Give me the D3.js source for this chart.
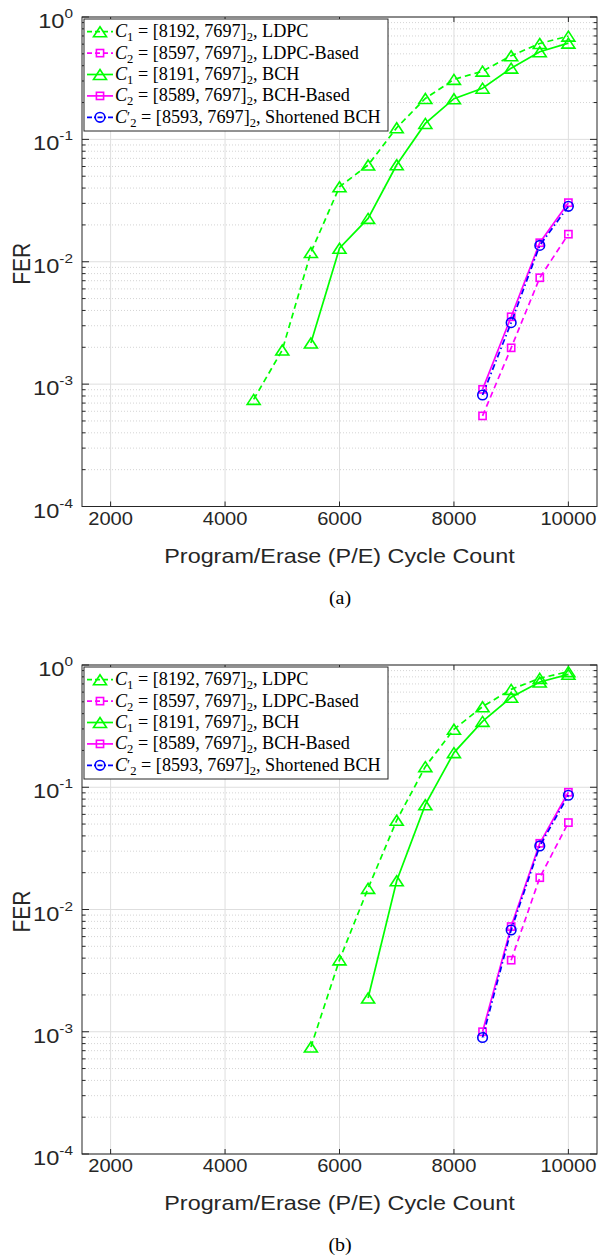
<!DOCTYPE html>
<html>
<head>
<meta charset="utf-8">
<script src="https://cdn.jsdelivr.net/npm/d3@7"></script>
<style>
body { margin: 0; background: #fff; }
</style>
</head>
<body>
<svg id="fig" width="600" height="1258"></svg>
<script>
// tick values
const peTicks = [2000, 4000, 6000, 8000, 10000];
const ferTicks = [1e-4, 1e-3, 1e-2, 1e-1, 1];
const ferExp = ["-4", "-3", "-2", "-1", "0"];

// legend text
const legendSub = ["1", "2", "1", "2", "2"];
const legendPrime = [false, false, false, false, true];
const legendCode = ["[8192, 7697]", "[8597, 7697]", "[8191, 7697]", "[8589, 7697]", "[8593, 7697]"];
const legendKind = ["LDPC", "LDPC-Based", "BCH", "BCH-Based", "Shortened BCH"];

// panel (a)
const aLdpcX = [4500, 5000, 5500, 6000, 6500, 7000, 7500, 8000, 8500, 9000, 9500, 10000];
const aLdpcY = [7.5e-4, 1.9e-3, 0.0119, 0.041, 0.0617, 0.1245, 0.216, 0.309, 0.361, 0.482, 0.608, 0.698];
const aLdpcBasedX = [8500, 9000, 9500, 10000];
const aLdpcBasedY = [5.5e-4, 1.98e-3, 7.4e-3, 0.0168];
const aBchX = [5500, 6000, 6500, 7000, 7500, 8000, 8500, 9000, 9500, 10000];
const aBchY = [2.17e-3, 0.0129, 0.0226, 0.062, 0.135, 0.215, 0.262, 0.382, 0.52, 0.612];
const aBchBasedX = [8500, 9000, 9500, 10000];
const aBchBasedY = [9.06e-4, 3.55e-3, 0.0143, 0.0304];
const aShortX = [8500, 9000, 9500, 10000];
const aShortY = [8.15e-4, 3.18e-3, 0.0136, 0.0284];

// panel (b)
const bLdpcX = [5500, 6000, 6500, 7000, 7500, 8000, 8500, 9000, 9500, 10000];
const bLdpcY = [7.5e-4, 3.87e-3, 0.0149, 0.0537, 0.1475, 0.298, 0.456, 0.632, 0.778, 0.882];
const bLdpcBasedX = [9000, 9500, 10000];
const bLdpcBasedY = [3.85e-3, 0.0182, 0.0514];
const bBchX = [6500, 7000, 7500, 8000, 8500, 9000, 9500, 10000];
const bBchY = [1.89e-3, 0.0172, 0.072, 0.192, 0.346, 0.544, 0.726, 0.839];
const bBchBasedX = [8500, 9000, 9500, 10000];
const bBchBasedY = [1.0e-3, 7.25e-3, 0.0348, 0.091];
const bShortX = [8500, 9000, 9500, 10000];
const bShortY = [8.97e-4, 6.8e-3, 0.0331, 0.086];

const styles = [
    {color: "#00ff00", dash: "6,4", marker: "tri"},
    {color: "#ff00ff", dash: "6,4", marker: "sq"},
    {color: "#00ff00", dash: null, marker: "tri"},
    {color: "#ff00ff", dash: null, marker: "sq"},
    {color: "#0000ff", dash: "6,3,1.5,3", marker: "circ"}
];

const panels = [
    {top: 17, bottom: 506.5, tag: "(a)",
     series: [[aLdpcX, aLdpcY], [aLdpcBasedX, aLdpcBasedY], [aBchX, aBchY], [aBchBasedX, aBchBasedY], [aShortX, aShortY]]},
    {top: 665, bottom: 1154, tag: "(b)",
     series: [[bLdpcX, bLdpcY], [bLdpcBasedX, bLdpcBasedY], [bBchX, bBchY], [bBchBasedX, bBchBasedY], [bShortX, bShortY]]}
];

const left = 82, right = 597;
const axisColor = "#262626";
const sans = "'Liberation Sans', Arial, sans-serif";
const serif = "'Liberation Serif', 'Times New Roman', serif";
const svg = d3.select("#fig");

panels.forEach(p => drawPanel(p));

function stretched(parent, x, y, sx) {
    return parent.append("g").attr("transform", `translate(${x},${y}) scale(${sx},1)`);
}

function drawMarker(g, kind, color) {
    if (kind === "tri") {
        g.append("path").attr("d", "M0,-5L6.5,5L-6.5,5Z");
    } else if (kind === "sq") {
        g.append("rect").attr("x", -3.6).attr("y", -3.6).attr("width", 7.2).attr("height", 7.2);
    } else {
        g.append("circle").attr("r", 4.8);
    }
    g.selectAll("*").attr("fill", "none").attr("stroke", color).attr("stroke-width", 1.6);
}

function drawPanel(p) {
    const x = d3.scaleLinear().domain([1500, 10500]).range([left, right]);
    const y = d3.scaleLog().domain([1e-4, 1]).range([p.bottom, p.top]);
    const g = svg.append("g");

    const minor = [];
    for (let e = -4; e < 0; e++) for (let k = 2; k <= 9; k++) minor.push(k * Math.pow(10, e));

    // grid
    g.append("g").selectAll("line").data(minor).join("line")
        .attr("x1", left).attr("x2", right)
        .attr("y1", d => y(d)).attr("y2", d => y(d))
        .attr("stroke", "#d4d4d4").attr("stroke-width", 1).attr("stroke-dasharray", "1,2");
    g.append("g").selectAll("line").data(ferTicks).join("line")
        .attr("x1", left).attr("x2", right)
        .attr("y1", d => y(d)).attr("y2", d => y(d))
        .attr("stroke", "#dedede").attr("stroke-width", 1);
    g.append("g").selectAll("line").data(peTicks).join("line")
        .attr("x1", d => x(d)).attr("x2", d => x(d))
        .attr("y1", p.top).attr("y2", p.bottom)
        .attr("stroke", "#dedede").attr("stroke-width", 1);

    // axes (ticks inward, on both sides)
    const ax = g.append("g").attr("stroke", axisColor).attr("stroke-width", 1);
    peTicks.forEach(t => {
        ax.append("line").attr("x1", x(t)).attr("x2", x(t)).attr("y1", p.bottom).attr("y2", p.bottom - 5);
        ax.append("line").attr("x1", x(t)).attr("x2", x(t)).attr("y1", p.top).attr("y2", p.top + 5);
    });
    ferTicks.forEach(t => {
        ax.append("line").attr("x1", left).attr("x2", left + 7).attr("y1", y(t)).attr("y2", y(t));
        ax.append("line").attr("x1", right).attr("x2", right - 7).attr("y1", y(t)).attr("y2", y(t));
    });
    minor.forEach(t => {
        ax.append("line").attr("x1", left).attr("x2", left + 3.5).attr("y1", y(t)).attr("y2", y(t));
        ax.append("line").attr("x1", right).attr("x2", right - 3.5).attr("y1", y(t)).attr("y2", y(t));
    });
    ax.append("rect").attr("x", left).attr("y", p.top)
        .attr("width", right - left).attr("height", p.bottom - p.top).attr("fill", "none");

    // tick labels
    peTicks.forEach(t => {
        stretched(g, x(t), p.bottom + 18, 1.15).append("text")
            .attr("text-anchor", "middle").attr("font-family", sans).attr("font-size", 17.5)
            .attr("fill", axisColor).text(t);
    });
    ferTicks.forEach((t, i) => {
        const tx = stretched(g, 73, y(t) + 11, 1.18).append("text")
            .attr("text-anchor", "end").attr("font-family", sans).attr("font-size", 20)
            .attr("fill", axisColor);
        tx.append("tspan").text("10");
        tx.append("tspan").attr("dy", -10).attr("font-size", 13).text(ferExp[i]);
    });

    // axis titles
    const mid = (left + right) / 2;
    stretched(g, mid, p.bottom + 56, 1.14).append("text")
        .attr("text-anchor", "middle").attr("font-family", sans).attr("font-size", 20.5)
        .attr("fill", axisColor).text("Program/Erase (P/E) Cycle Count");
    stretched(g, 30, (p.top + p.bottom) / 2 + 2, 1.18).append("text")
        .attr("transform", "rotate(-90)")
        .attr("text-anchor", "middle").attr("font-family", sans).attr("font-size", 21)
        .attr("fill", axisColor).text("FER");
    stretched(g, 340, p.bottom + 97, 1.05).append("text")
        .attr("text-anchor", "middle").attr("font-family", serif).attr("font-size", 19)
        .attr("fill", "#000").text(p.tag);

    // series
    const line = d3.line().x(d => x(d[0])).y(d => y(d[1]));
    p.series.forEach((s, i) => {
        const st = styles[i];
        const pts = s[0].map((v, j) => [v, s[1][j]]);
        g.append("path").datum(pts).attr("d", line)
            .attr("fill", "none").attr("stroke", st.color).attr("stroke-width", 1.7)
            .attr("stroke-dasharray", st.dash);
        pts.forEach(d => {
            drawMarker(g.append("g").attr("transform", `translate(${x(d[0])},${y(d[1])})`), st.marker, st.color);
        });
    });

    // legend
    const lg = g.append("g").attr("transform", `translate(84,${p.top + 2})`);
    lg.append("rect").attr("width", 304).attr("height", 112)
        .attr("fill", "#fff").attr("stroke", axisColor).attr("stroke-width", 1);
    legendKind.forEach((k, i) => {
        const st = styles[i];
        const cy = 12.7 + i * 21.4;
        lg.append("line").attr("x1", 3).attr("x2", 29).attr("y1", cy).attr("y2", cy)
            .attr("stroke", st.color).attr("stroke-width", 1.7)
            .attr("stroke-dasharray", st.dash ? (st.dash === "6,4" ? "5,3" : "5,2,1.5,2") : null);
        drawMarker(lg.append("g").attr("transform", `translate(16,${cy})`), st.marker, st.color);
        const t = stretched(lg, 31, cy + 5.5, 1.01).append("text")
            .attr("font-family", serif).attr("font-size", 18).attr("fill", "#000");
        t.append("tspan").attr("font-style", "italic").text("C");
        if (legendPrime[i]) {
            t.append("tspan").attr("dy", -1).attr("font-size", 14).text("′");
            t.append("tspan").attr("dy", 5).attr("font-size", 12.5).text(legendSub[i]);
        } else {
            t.append("tspan").attr("dy", 4).attr("font-size", 12.5).text(legendSub[i]);
        }
        t.append("tspan").attr("dy", -4).text(" = " + legendCode[i]);
        t.append("tspan").attr("dy", 4).attr("font-size", 12.5).text("2");
        t.append("tspan").attr("dy", -4).text(", " + k);
    });
}
</script>
</body>
</html>
